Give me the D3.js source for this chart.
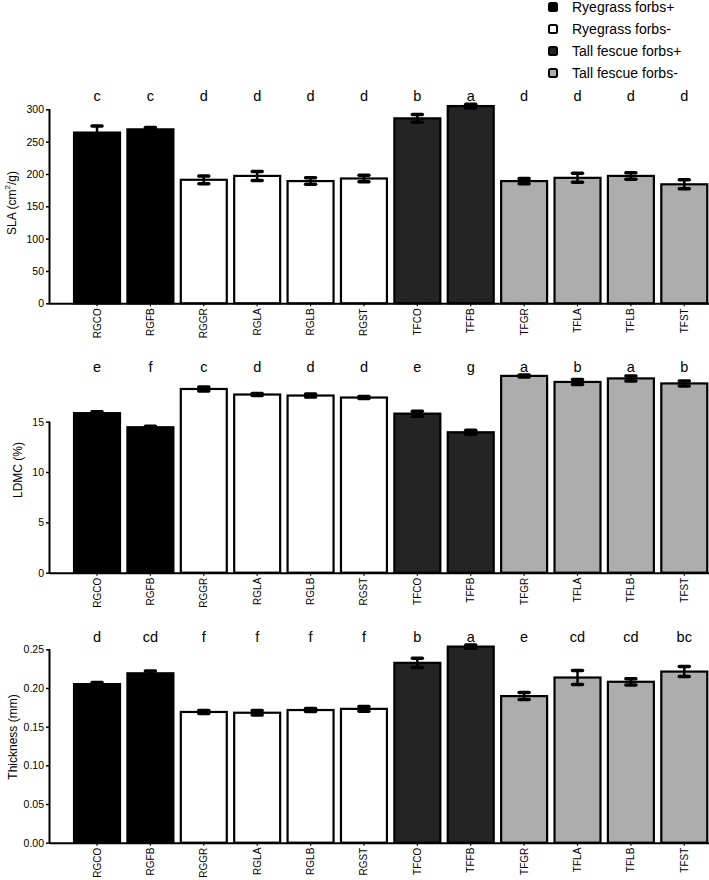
<!DOCTYPE html>
<html><head><meta charset="utf-8">
<script src="https://cdn.jsdelivr.net/npm/d3@7"></script>
<style>
body{margin:0;background:#fff;}
svg{display:block;font-family:"Liberation Sans",Arial,sans-serif;}
</style></head>
<body><svg id="c" width="709" height="880"></svg>
<script>
const categories = ["RGCO","RGFB","RGGR","RGLA","RGLB","RGST","TFCO","TFFB","TFGR","TFLA","TFLB","TFST"];
const groups = ["Ryegrass forbs+","Ryegrass forbs+","Ryegrass forbs-","Ryegrass forbs-","Ryegrass forbs-","Ryegrass forbs-","Tall fescue forbs+","Tall fescue forbs+","Tall fescue forbs-","Tall fescue forbs-","Tall fescue forbs-","Tall fescue forbs-"];
const legendGroups = ["Ryegrass forbs+","Ryegrass forbs-","Tall fescue forbs+","Tall fescue forbs-"];

const slaValues = [264, 269, 191, 197, 189, 193, 286, 305, 189, 194, 197, 184];
const slaErrors = [10, 3, 6, 7, 5, 5, 6, 3, 4, 7, 5, 7];
const slaLetters = ["c","c","d","d","d","d","b","a","d","d","d","d"];
const slaTicks = [0, 50, 100, 150, 200, 250, 300];

const ldmcValues = [15.85, 14.45, 18.25, 17.7, 17.6, 17.4, 15.8, 13.95, 19.55, 18.95, 19.3, 18.8];
const ldmcErrors = [0.15, 0.1, 0.2, 0.1, 0.15, 0.1, 0.25, 0.2, 0.1, 0.25, 0.25, 0.25];
const ldmcLetters = ["e","f","c","d","d","d","e","g","a","b","a","b"];
const ldmcTicks = [0, 5, 10, 15];

const thickValues = [0.205, 0.219, 0.169, 0.168, 0.1715, 0.173, 0.2325, 0.2535, 0.1895, 0.2135, 0.208, 0.2212];
const thickErrors = [0.002, 0.003, 0.002, 0.003, 0.002, 0.003, 0.006, 0.002, 0.0045, 0.009, 0.004, 0.0065];
const thickLetters = ["d","cd","f","f","f","f","b","a","e","cd","cd","bc"];
const thickTicks = [0, 0.05, 0.10, 0.15, 0.20, 0.25];

const color = d3.scaleOrdinal().domain(legendGroups).range(["#000000","#ffffff","#242424","#adadad"]);

const svg = d3.select("#c");
const axisX = 50;
const x = d3.scaleBand().domain(categories).range([70.3, 711]).paddingInner(0.139).paddingOuter(0.07);

function panel(opt){
  const y = d3.scaleLinear().domain([0, opt.ticks[opt.ticks.length-1]]).range([opt.y0, opt.yTop]);
  const g = svg.append("g");
  const data = categories.map((c,i)=>({c, v:opt.values[i], e:opt.errors[i], l:opt.letters[i], grp:groups[i]}));
  g.selectAll("rect.bar").data(data).join("rect")
    .attr("x", d=>x(d.c)).attr("width", x.bandwidth())
    .attr("y", d=>y(d.v)).attr("height", d=>opt.y0 - y(d.v))
    .attr("fill", d=>color(d.grp)).attr("stroke","#000").attr("stroke-width",2.2);
  const eb = g.selectAll("g.eb").data(data).join("g");
  eb.append("line").attr("x1",d=>x(d.c)+x.bandwidth()/2).attr("x2",d=>x(d.c)+x.bandwidth()/2)
    .attr("y1",d=>y(d.v+d.e)).attr("y2",d=>y(d.v-d.e)).attr("stroke","#000").attr("stroke-width",2.5);
  [1,-1].forEach(s=>{
    eb.append("line").attr("x1",d=>x(d.c)+x.bandwidth()/2-5).attr("x2",d=>x(d.c)+x.bandwidth()/2+5)
      .attr("y1",d=>y(d.v+s*d.e)).attr("y2",d=>y(d.v+s*d.e))
      .attr("stroke","#000").attr("stroke-width",3.5).attr("stroke-linecap","round");
  });
  g.selectAll("text.let").data(data).join("text")
    .attr("x", d=>x(d.c)+x.bandwidth()/2).attr("y", opt.letterY)
    .attr("text-anchor","middle").attr("font-size",14.5).attr("fill","#000").text(d=>d.l);
  const ya = g.append("g").attr("transform",`translate(${axisX},0)`)
    .call(d3.axisLeft(y).tickValues(opt.ticks).tickSize(4).tickPadding(2).tickFormat(opt.fmt));
  ya.select(".domain").attr("stroke-width",2).attr("d",`M-0.5,${opt.y0+1}V${opt.yTop}`);
  ya.selectAll(".tick line").attr("stroke-width",1.5);
  ya.selectAll(".tick text").attr("font-size",10.5).attr("font-family","Liberation Sans, Arial, sans-serif").attr("fill","#000");
  const xa = g.append("g").attr("transform",`translate(0,${opt.y0})`)
    .call(d3.axisBottom(x).tickSize(3).tickPadding(2));
  xa.select(".domain").attr("stroke-width",2).attr("d",`M${axisX},0.5H709`);
  xa.selectAll(".tick line").attr("stroke-width",1.2);
  xa.selectAll(".tick text").attr("font-size",10).attr("font-family","Liberation Sans, Arial, sans-serif").attr("fill","#000")
    .attr("transform","rotate(-90)").attr("text-anchor","end").attr("x",-5).attr("y",0).attr("dy","0.35em");
  const lab = g.append("text").attr("transform",`translate(${opt.labelX},${opt.labelY}) rotate(-90)`)
    .attr("text-anchor","middle").attr("dominant-baseline","central").attr("font-size",12).attr("fill","#000");
  opt.label(lab);
}

panel({values:slaValues, errors:slaErrors, letters:slaLetters, ticks:slaTicks, y0:303.3, yTop:109.3, letterY:100.5,
  fmt:d3.format("d"), labelX:12, labelY:203,
  label:t=>{t.append("tspan").text("SLA (cm");t.append("tspan").attr("font-size",8).attr("dy",-5).text("2");t.append("tspan").attr("dy",5).text("/g)");}});
panel({values:ldmcValues, errors:ldmcErrors, letters:ldmcLetters, ticks:ldmcTicks, y0:572.7, yTop:421.7, letterY:372,
  fmt:d3.format("d"), labelX:17.5, labelY:470,
  label:t=>t.text("LDMC (%)")});
panel({values:thickValues, errors:thickErrors, letters:thickLetters, ticks:thickTicks, y0:842.7, yTop:649.3, letterY:641.5,
  fmt:d3.format(".2f"), labelX:12.5, labelY:737,
  label:t=>t.text("Thickness (mm)")});

const lg = svg.append("g");
const rows = lg.selectAll("g").data(legendGroups).join("g")
  .attr("transform",(d,i)=>`translate(553,${7+i*22})`);
rows.append("rect").attr("x",-4).attr("y",-4).attr("width",8).attr("height",8).attr("rx",1.5)
  .attr("fill",d=>color(d)).attr("stroke","#000").attr("stroke-width",2);
rows.append("text").attr("x",19).attr("dy","0.35em").attr("font-size",14).attr("fill","#000").text(d=>d);
</script></body></html>
